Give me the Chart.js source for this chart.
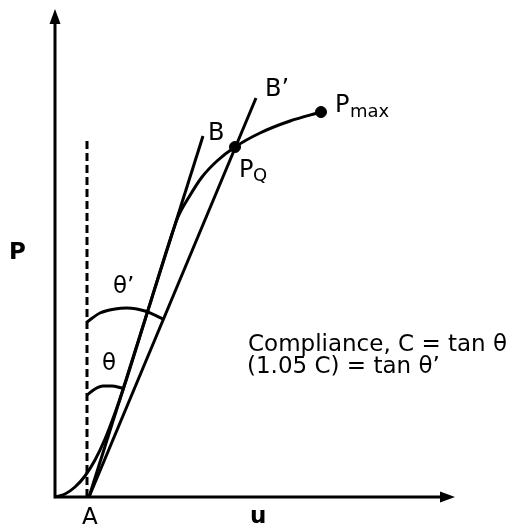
<!DOCTYPE html>
<html>
<head>
<meta charset="utf-8">
<script src="https://cdn.jsdelivr.net/npm/chart.js@4.4.1/dist/chart.umd.min.js"></script>
<style>
  html, body { margin: 0; padding: 0; background: #fff; }
  #wrap { width: 511px; height: 524px; }
</style>
</head>
<body>
<div id="wrap"><canvas id="chart"></canvas></div>
<script>
// load-displacement curve (u, P)
const curveU = [0, 10, 20, 30, 40, 50, 60, 68, 90, 116, 123, 134, 147, 162, 180, 205, 235, 266];
const curveP = [0, 3, 10, 21, 37, 58, 84, 107, 177, 260, 280, 300, 320, 336, 350, 364, 376, 385];

// tangent line A-B and secant A-B'
const lineBU = [34, 148];
const lineBP = [0, 361];
const lineB2U = [34, 201];
const lineB2P = [0, 399];

// vertical dashed reference through A
const dashU = [32, 32];
const dashP = [0, 357];

// angle arcs
const thetaU = [32, 40, 48, 57, 67];
const thetaP = [102, 108, 111, 111, 109];
const theta2U = [32, 45, 60, 72, 90, 108];
const theta2P = [175, 184, 188, 189, 186, 178];

// marked points: P_Q and P_max
const markU = [180, 266];
const markP = [350, 385];

// axis ranges
const uMax = 400;
const pMax = 488;

const pts = (xs, ys) => xs.map((x, i) => ({ x: x, y: ys[i] }));

const FONT = "DejaVu Sans";

// text annotations: [text, u, P, size, weight]
const labels = [
  ["B", 153, 357, 24, "normal"],
  ["B\u2019", 210, 401, 24, "normal"],
  ["P", 280, 385, 24, "normal"],
  ["max", 295, 380, 18, "normal"],
  ["P", 184, 320, 24, "normal"],
  ["Q", 198, 316, 18, "normal"],
  ["\u03b8\u2019", 58, 204, 23, "normal"],
  ["\u03b8", 47, 127, 23, "normal"],
  ["P", -46, 238, 23, "bold"],
  ["A", 27, -27, 23, "normal"],
  ["u", 195, -26, 23, "bold"],
  ["Compliance, C = tan \u03b8", 193, 146, 23, "normal"],
  ["(1.05 C) = tan \u03b8\u2019", 192, 124, 23, "normal"],
];

const axesAndText = {
  id: "axesAndText",
  afterDatasetsDraw(chart) {
    const ctx = chart.ctx;
    const xs = chart.scales.x;
    const ys = chart.scales.y;
    const x0 = xs.getPixelForValue(0);
    const y0 = ys.getPixelForValue(0);
    const xe = xs.getPixelForValue(uMax);
    const ye = ys.getPixelForValue(pMax);
    ctx.save();
    ctx.strokeStyle = "#000";
    ctx.fillStyle = "#000";
    ctx.lineWidth = 3;
    ctx.beginPath();
    ctx.moveTo(x0 - 1.5, y0);
    ctx.lineTo(xe - 10, y0);
    ctx.moveTo(x0, y0 + 1.5);
    ctx.lineTo(x0, ye + 10);
    ctx.stroke();
    // arrow heads
    ctx.beginPath();
    ctx.moveTo(xe, y0);
    ctx.lineTo(xe - 15, y0 - 5.5);
    ctx.lineTo(xe - 15, y0 + 5.5);
    ctx.closePath();
    ctx.fill();
    ctx.beginPath();
    ctx.moveTo(x0, ye);
    ctx.lineTo(x0 - 5.5, ye + 15);
    ctx.lineTo(x0 + 5.5, ye + 15);
    ctx.closePath();
    ctx.fill();

    ctx.textAlign = "left";
    ctx.textBaseline = "alphabetic";
    labels.forEach(([t, u, p, size, weight]) => {
      ctx.font = weight + " " + size + "px '" + FONT + "'";
      ctx.fillText(t, xs.getPixelForValue(u), ys.getPixelForValue(p));
    });
    ctx.restore();
  },
};

const lineSet = (data, extra) => Object.assign({
  data: data,
  showLine: true,
  borderColor: "#000",
  borderWidth: 3,
  pointRadius: 0,
  fill: false,
  clip: false,
}, extra || {});

new Chart(document.getElementById("chart"), {
  type: "scatter",
  data: {
    datasets: [
      lineSet(pts(curveU, curveP), { cubicInterpolationMode: "monotone" }),
      lineSet(pts(lineBU, lineBP)),
      lineSet(pts(lineB2U, lineB2P)),
      lineSet(pts(dashU, dashP), { borderDash: [8, 4] }),
      lineSet(pts(thetaU, thetaP), { cubicInterpolationMode: "monotone" }),
      lineSet(pts(theta2U, theta2P), { cubicInterpolationMode: "monotone" }),
      {
        data: pts(markU, markP),
        showLine: false,
        pointRadius: 5.5,
        backgroundColor: "#000",
        borderColor: "#000",
        clip: false,
      },
    ],
  },
  options: {
    responsive: true,
    maintainAspectRatio: false,
    animation: false,
    layout: { padding: { left: 55, right: 56, top: 9, bottom: 27 } },
    plugins: { legend: { display: false }, tooltip: { enabled: false } },
    scales: {
      x: { type: "linear", min: 0, max: uMax, display: false },
      y: { type: "linear", min: 0, max: pMax, display: false },
    },
  },
  plugins: [axesAndText],
});
</script>
</body>
</html>
